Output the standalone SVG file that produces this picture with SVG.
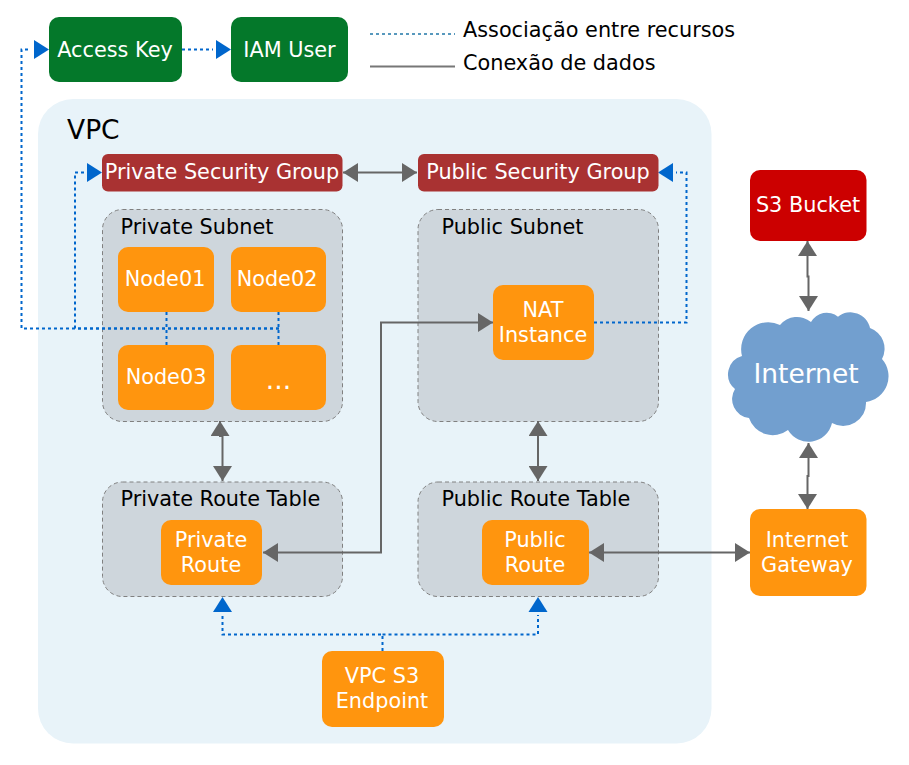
<svg xmlns="http://www.w3.org/2000/svg" width="909" height="765" viewBox="0 0 909 765">
<style>
text{font-family:"DejaVu Sans",Verdana,sans-serif;font-size:20.8px}
.w{fill:#fff;text-anchor:middle}
.k{fill:#000}
.o{fill:#FF950E}
.g{fill:#04782A}
.sg{fill:#A93232}
.sub{fill:#CED6DC;stroke:#808080;stroke-width:1;stroke-dasharray:4 3}
.d{fill:none;stroke:#0066CC;stroke-width:2;stroke-dasharray:3 3}
.l{fill:none;stroke:#666;stroke-width:2}
</style>
<defs>
<marker id="ab" markerUnits="userSpaceOnUse" markerWidth="15" markerHeight="19" refX="-3" refY="9.500" orient="auto" overflow="visible"><path d="M0 0L15 9.500L0 19Z" fill="#0066CC"/></marker>
<marker id="ag" markerUnits="userSpaceOnUse" markerWidth="15" markerHeight="19" refX="15" refY="9.500" orient="auto-start-reverse"><path d="M0 0L15 9.500L0 19Z" fill="#666"/></marker>
</defs>
<rect id="vpc-bg" x="38" y="99" width="673.500" height="644.500" rx="35" fill="#E8F3F9"/>
<text id="vpc-label" class="k" x="67" y="139" style="font-size:26.500px">VPC</text>
<g id="private-subnet"><rect class="sub" x="102.500" y="209.500" width="240" height="212" rx="20"/><text class="k" x="120.500" y="234">Private Subnet</text></g>
<g id="public-subnet"><rect class="sub" x="418" y="209.500" width="240.500" height="212" rx="20"/><text class="k" x="441.500" y="234">Public Subnet</text></g>
<g id="private-route-table"><rect class="sub" x="102.500" y="482" width="240" height="114.500" rx="20"/><text class="k" x="120.500" y="506">Private Route Table</text></g>
<g id="public-route-table"><rect class="sub" x="418" y="482" width="240.500" height="114.500" rx="20"/><text class="k" x="441.500" y="506">Public Route Table</text></g>
<g id="connectors">
<path class="d" d="M279 328.500H21.500V49.500H31" marker-end="url(#ab)"/>
<path class="d" d="M279 328.500H75V172.500H84" marker-end="url(#ab)"/>
<path class="d" d="M182 49.500H213" marker-end="url(#ab)"/>
<path class="d" d="M166.500 312V345"/>
<path class="d" d="M278.500 312V345"/>
<path class="d" d="M594 322.500H686.500V172.500H676" marker-end="url(#ab)"/>
<path class="d" d="M382.500 651V634.500H222.500V615" marker-end="url(#ab)"/>
<path class="d" d="M382.500 634.500H538V615" marker-end="url(#ab)"/>
<path class="l" d="M343 172.500H417" marker-start="url(#ag)" marker-end="url(#ag)"/>
<path class="l" d="M220 421V436H222.500V481" marker-start="url(#ag)" marker-end="url(#ag)"/>
<path class="l" d="M538 421V481" marker-start="url(#ag)" marker-end="url(#ag)"/>
<path class="l" d="M493 322.500H381V552.500H263" marker-start="url(#ag)" marker-end="url(#ag)"/>
<path class="l" d="M589 552.500H750" marker-start="url(#ag)" marker-end="url(#ag)"/>
<path class="l" d="M807.500 241V276.500H808.500V311" marker-start="url(#ag)" marker-end="url(#ag)"/>
<path class="l" d="M808.500 443V476H807.500V509" marker-start="url(#ag)" marker-end="url(#ag)"/>
<path id="legend-dotted" class="d" style="stroke:#2077A8;stroke-width:1.500" d="M370 34H455"/>
<path id="legend-solid" class="l" style="stroke:#777" d="M370 66.500H455"/>
</g>
<g id="access-key"><rect class="g" x="49" y="17" width="133" height="65" rx="10"/><text class="w" x="115" y="57">Access Key</text></g>
<g id="iam-user"><rect class="g" x="231" y="17" width="117" height="65" rx="10"/><text class="w" x="289.500" y="57">IAM User</text></g>
<text id="legend-1" class="k" x="463" y="37">Associação entre recursos</text>
<text id="legend-2" class="k" x="463" y="70">Conexão de dados</text>
<g id="private-sg"><rect class="sg" x="102" y="154" width="240.500" height="37.500" rx="6"/><text class="w" x="222" y="179">Private Security Group</text></g>
<g id="public-sg"><rect class="sg" x="418" y="154" width="240.500" height="37.500" rx="6"/><text class="w" x="538" y="179">Public Security Group</text></g>
<g id="node01"><rect class="o" x="118" y="247" width="96" height="65" rx="10"/><text class="w" x="165" y="286">Node01</text></g>
<g id="node02"><rect class="o" x="231" y="247" width="95" height="65" rx="10"/><text class="w" x="277" y="286">Node02</text></g>
<g id="node03"><rect class="o" x="118" y="345" width="96" height="65" rx="10"/><text class="w" x="166" y="384">Node03</text></g>
<g id="node-more"><rect class="o" x="231" y="345" width="95" height="65" rx="10"/><text class="w" x="278.500" y="389" style="font-size:26.500px">...</text></g>
<g id="nat-instance"><rect class="o" x="493" y="285" width="101" height="75" rx="10"/><text class="w" x="543" y="317">NAT</text><text class="w" x="543" y="342">Instance</text></g>
<g id="private-route"><rect class="o" x="161" y="520" width="101" height="65" rx="10"/><text class="w" x="211" y="547">Private</text><text class="w" x="211" y="572">Route</text></g>
<g id="public-route"><rect class="o" x="482" y="520" width="107" height="65" rx="10"/><text class="w" x="535" y="547">Public</text><text class="w" x="535" y="572">Route</text></g>
<g id="vpc-s3-endpoint"><rect class="o" x="322" y="651" width="122" height="76" rx="10"/><text class="w" x="382" y="683">VPC S3</text><text class="w" x="382" y="708">Endpoint</text></g>
<g id="s3-bucket"><rect x="750" y="170" width="116.500" height="71" rx="10" fill="#CC0000"/><text class="w" x="808" y="212">S3 Bucket</text></g>
<g id="internet"><path fill="#729FCF" d="M742 356A27 27 0 0 1 780 325A22 22 0 0 1 811 322A18 18 0 0 1 838 316.700A20 20 0 0 1 870 328A22 22 0 0 1 882 359A26 26 0 0 1 866 402A23 23 0 0 1 832 423A24 24 0 0 1 788 430A25 25 0 0 1 749 418A19 19 0 0 1 735 389A19 19 0 0 1 742 356Z"/><text class="w" x="806" y="383" style="font-size:26.500px">Internet</text></g>
<g id="internet-gateway"><rect class="o" x="750" y="509" width="116.500" height="87" rx="10"/><text class="w" x="807" y="547">Internet</text><text class="w" x="807" y="572">Gateway</text></g>
</svg>
